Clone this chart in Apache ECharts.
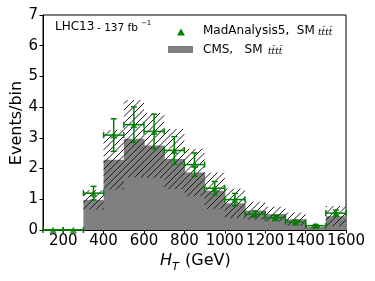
<!DOCTYPE html>
<html><head><meta charset="utf-8">
<script src="https://cdn.jsdelivr.net/npm/echarts@6/dist/echarts.min.js"></script>
<style>html,body{margin:0;padding:0;background:#fff}#c{width:375px;height:281px}</style>
</head><body><div id="c"></div>
<script>
// CMS SM tttt histogram (lower bin edges, width 100 GeV)
const cmsBins = [300,400,500,600,700,800,900,1000,1100,1200,1300,1400,1500];
const cmsEvents = [0.98,2.29,2.97,2.75,2.31,1.87,1.28,0.87,0.63,0.52,0.35,0.10,0.45];
const cmsUnc = [0.32,0.97,1.26,1.06,0.98,0.77,0.59,0.48,0.29,0.24,0.22,0.04,0.33];
// MadAnalysis5 points (bin centers)
const maCenters = [150,250,350,450,550,650,750,850,950,1050,1150,1250,1350,1450,1550];
const maEvents = [0,0,1.20,3.09,3.43,3.21,2.59,2.13,1.36,0.99,0.52,0.40,0.26,0.14,0.55];
const maErr = [0,0,0.22,0.53,0.58,0.56,0.45,0.38,0.22,0.20,0.10,0.08,0.06,0.04,0.10];
const binWidth = 100;
const xTicks = [200,400,600,800,1000,1200,1400,1600];

const chart = echarts.init(document.getElementById('c'), null, {renderer:'canvas'});

const cmsData = cmsBins.map((b,i)=>[b, b+binWidth, cmsEvents[i], cmsUnc[i]]);
const maData = maCenters.map((c,i)=>[c, maEvents[i], maErr[i]]);
const GREEN = '#008000';
const HATCH = 6.5;

chart.setOption({
  animation:false,
  grid:{left:43, right:29, top:15, bottom:51, show:true, borderColor:'#000', borderWidth:1, backgroundColor:'transparent'},
  xAxis:{type:'value', min:100, max:1600,
    axisLine:{show:true, onZero:false, lineStyle:{color:'#000'}},
    axisTick:{show:true, length:3.5, customValues:xTicks, lineStyle:{color:'#000'}},
    axisLabel:{customValues:xTicks, hideOverlap:false, showMinLabel:true, showMaxLabel:true, formatter:v=>String(v), fontFamily:'DejaVu Sans', fontSize:15, color:'#000', margin:4},
    splitLine:{show:false}},
  yAxis:{type:'value', min:0, max:7, interval:1,
    axisLine:{show:true, lineStyle:{color:'#000'}},
    axisTick:{show:true, length:3.5, lineStyle:{color:'#000'}},
    axisLabel:{fontFamily:'DejaVu Sans', fontSize:15, color:'#000', margin:5},
    splitLine:{show:false}},
  series:[
    {type:'custom', data:cmsData, z:1, clip:true, renderItem:(p,api)=>{
      const a = api.coord([api.value(0), api.value(2)]);
      const b = api.coord([api.value(1), 0]);
      return {type:'rect', shape:{x:a[0], y:a[1], width:b[0]-a[0]+0.6, height:b[1]-a[1]}, style:{fill:'#808080'}};
    }},
    {type:'custom', data:cmsData, z:2, renderItem:(p,api)=>{
      const v = api.value(2), e = api.value(3);
      const a = api.coord([api.value(0), v+e]);
      const b = api.coord([api.value(1), Math.max(0,v-e)]);
      const x0=a[0], x1=b[0], yT=a[1], yB=b[1];
      const children=[];
      const kStart = Math.ceil((x0+yT)/HATCH)*HATCH;
      for (let k=kStart; k<=x1+yB; k+=HATCH) {
        const xa = Math.max(x0, k-yB), xb = Math.min(x1, k-yT);
        if (xb > xa) children.push({type:'line', shape:{x1:xa, y1:k-xa, x2:xb, y2:k-xb}, style:{stroke:'#1a1a1a', lineWidth:1}});
      }
      return {type:'group', children};
    }},
    {type:'custom', data:maData, z:3, renderItem:(p,api)=>{
      const c = api.value(0), y = api.value(1), e = api.value(2);
      const L = api.coord([c-binWidth/2, y]), R = api.coord([c+binWidth/2, y]);
      const T = api.coord([c, y+e]), B = api.coord([c, y-e]);
      const cap = 3;
      const st = {stroke:GREEN, lineWidth:1.5, fill:null};
      const children = [
        {type:'line', shape:{x1:L[0], y1:L[1], x2:R[0], y2:R[1]}, style:st},
        {type:'line', shape:{x1:L[0], y1:L[1]-cap, x2:L[0], y2:L[1]+cap}, style:st},
        {type:'line', shape:{x1:R[0], y1:R[1]-cap, x2:R[0], y2:R[1]+cap}, style:st}
      ];
      if (e > 0) {
        children.push({type:'line', shape:{x1:T[0], y1:T[1], x2:B[0], y2:B[1]}, style:st});
        children.push({type:'line', shape:{x1:T[0]-cap, y1:T[1], x2:T[0]+cap, y2:T[1]}, style:st});
        children.push({type:'line', shape:{x1:B[0]-cap, y1:B[1], x2:B[0]+cap, y2:B[1]}, style:st});
      }
      return {type:'group', children};
    }},
    {type:'scatter', data:maData.map(d=>[d[0],d[1]]), symbol:'triangle', symbolSize:7, itemStyle:{color:GREEN}, z:4}
  ],
  graphic:[
    {type:'text', left:55, top:21, style:{text:'LHC13', font:'12px "DejaVu Sans"', fill:'#000'}},
    {type:'text', left:97, top:23, style:{text:'- 137 fb', font:'10.5px "DejaVu Sans"', fill:'#000'}},
    {type:'text', left:141, top:20, style:{text:'−1', font:'7px "DejaVu Sans"', fill:'#000'}},
    {type:'polygon', shape:{points:[[181,28.5],[185,35.5],[177,35.5]]}, style:{fill:GREEN}},
    {type:'text', left:203, top:25, style:{text:'MadAnalysis5,  SM ', font:'12px "DejaVu Sans"', fill:'#000'}},
    {type:'text', left:318, top:28, style:{text:'tt̄tt̄', font:'italic 9px "DejaVu Serif"', fill:'#000'}},
    {type:'rect', shape:{x:168, y:46, width:25, height:7}, style:{fill:'#808080'}},
    {type:'text', left:203, top:44, style:{text:'CMS,   SM ', font:'12px "DejaVu Sans"', fill:'#000'}},
    {type:'text', left:268, top:47, style:{text:'tt̄tt̄', font:'italic 9px "DejaVu Serif"', fill:'#000'}},
    {type:'text', left:160, top:253, style:{text:'H', font:'italic 16px "DejaVu Sans"', fill:'#000'}},
    {type:'text', left:172, top:262, style:{text:'T', font:'italic 11px "DejaVu Sans"', fill:'#000'}},
    {type:'text', left:185, top:253, style:{text:'(GeV)', font:'16px "DejaVu Sans"', fill:'#000'}},
    {type:'text', x:9, y:123, rotation:Math.PI/2, style:{text:'Events/bin', font:'16px "DejaVu Sans"', fill:'#000', align:'center', verticalAlign:'top'}}
  ]
});
</script></body></html>
